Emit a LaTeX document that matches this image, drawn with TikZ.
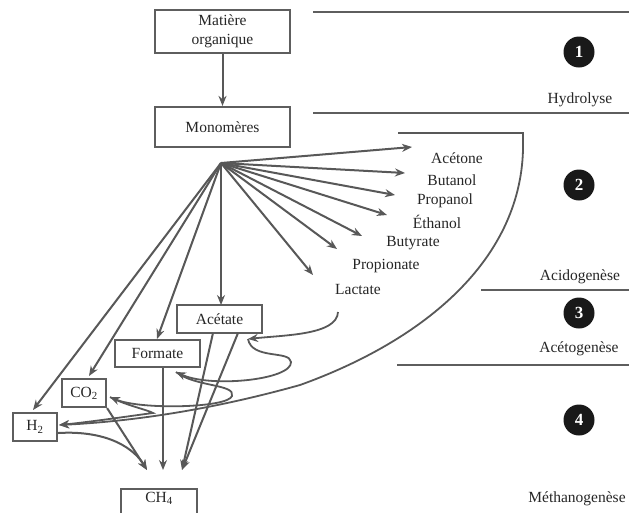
\documentclass[tikz,border=0pt]{standalone}
\usepackage{fontspec}
\setmainfont{Liberation Serif}
\usetikzlibrary{arrows.meta}
\definecolor{lc}{HTML}{585858}
\definecolor{bc}{HTML}{5E5E5E}
\definecolor{tc}{HTML}{262626}
\newcommand{\fs}{\fontsize{15.5}{18}\selectfont}
\begin{document}
\begin{tikzpicture}[x=1pt,y=-1pt,
  ln/.style={draw=lc, line width=2pt},
  arr/.style={ln, -{Stealth[length=10pt,width=8pt]}},
  box/.style={draw=bc, line width=2.2pt, inner sep=0pt, font=\fs, text=tc, align=center},
  lab/.style={font=\fs, text=tc, inner sep=0pt},
  num/.style={circle, fill=black!90, text=white, font=\fontsize{17}{17}\selectfont\bfseries, minimum size=31pt, inner sep=0pt},
  sep/.style={draw=bc, line width=2.2pt}]
\useasboundingbox (0,0) rectangle (629,512);
\fill[white] (0,0) rectangle (629,512);

% boxes
\node[box, minimum width=135pt, minimum height=43pt] (mat) at (222.5,31.5) {Matière\\[1pt]organique};
\node[box, minimum width=135pt, minimum height=40pt] (mono) at (222.5,127) {Monomères};
\node[box, minimum width=85pt, minimum height=28pt] (acet) at (219.5,319) {Acétate};
\node[box, minimum width=85pt, minimum height=27pt] (form) at (157.5,353.5) {Formate};
\node[box, minimum width=44pt, minimum height=28pt] (co2) at (84,393) {CO\textsubscript{2}};
\node[box, minimum width=44pt, minimum height=28pt] (h2) at (35,427) {H\textsubscript{2}};
\node[box, minimum width=76pt, minimum height=40pt, anchor=north] (ch4) at (159,488) {};
\node[lab] (ch4t) at (159,498) {CH\textsubscript{4}};

% product labels
\node[lab] (acetone) at (457,158) {Acétone};
\node[lab] (butanol) at (452,180) {Butanol};
\node[lab] (propanol) at (445,201) {Propanol};
\node[lab] (ethanol) at (437,222) {Éthanol};
\node[lab] (butyrate) at (413,243) {Butyrate};
\node[lab] (propionate) at (386,266) {Propionate};
\node[lab] (lactate) at (358,289) {Lactate};

% right column
\draw[sep] (313,12) -- (629,12);
\draw[sep] (313,113) -- (629,113);
\draw[sep] (481,290) -- (629,290);
\draw[sep] (397,365) -- (629,365);
\node[num] (n1) at (579,52) {1};
\node[num] (n2) at (579,185) {2};
\node[num] (n3) at (579,313) {3};
\node[num] (n4) at (579,420) {4};
\node[lab] (hyd) at (580,100) {Hydrolyse};
\node[lab] (acid) at (580,277) {Acidogenèse};
\node[lab] (aceto) at (579,349) {Acétogenèse};
\node[lab] (metha) at (577,499) {Méthanogenèse};

% coordinates
\coordinate (fo) at (221,163);
\coordinate (t1) at (412,147);
\coordinate (t2) at (405,173);
\coordinate (t3) at (395,195);
\coordinate (t4) at (387,215);
\coordinate (t5) at (362,236);
\coordinate (t6) at (337,249);
\coordinate (t7) at (313,275);
\coordinate (tf) at (157,339);
\coordinate (tc) at (89,376);
\coordinate (th) at (33,410);
\coordinate (ta) at (221,305);

\draw[arr] (mat) -- (mono);
\foreach \t in {t1,t2,t3,t4,t5,t6,t7,tf,tc,th,ta} \draw[arr] (fo) -- (\t);

% bracket to H2
\coordinate (bk0) at (398,133);
\coordinate (bk1) at (523,133);
\coordinate (h2in) at (59,425);
\draw[arr, line width=1.8pt] (bk0) -- (bk1) -- (523,150) .. controls (520,260) and (425,340) .. (300,385)
   .. controls (200,413) and (120,422) .. (h2in);

% acetogenesis chain
\coordinate (lac0) at (338,312);
\coordinate (cA) at (248,339);
\coordinate (cF) at (176,372);
\coordinate (cC) at (110,397);
\coordinate (cH) at (153,413);
\draw[arr, line width=1.8pt] (lac0) .. controls (337,335) and (285,335) .. (cA);
\draw[arr, line width=1.8pt] (cA) .. controls (252,360) and (290,350) .. (291,362)
   .. controls (292,380) and (210,388) .. (cF);
\draw[arr, line width=1.8pt] (cF) .. controls (195,387) and (236,384) .. (232,396)
   .. controls (228,408) and (140,410) .. (cC);
\draw[arr, line width=1.8pt] (cC) .. controls (125,405) and (148,410) .. (cH)
   .. controls (130,416) and (90,422) .. (h2in);

% to CH4
\coordinate (m1) at (147,470);
\coordinate (m2) at (163,470);
\coordinate (m3) at (182,470);
\draw[arr] (co2.south east) -- (m1);
\draw[arr] (h2.east |- 0,433) .. controls (110,430) and (135,450) .. (m1);
\draw[arr] (form.south -| 163,0) -- (m2);
\draw[arr] (213,333) -- (m3);
\draw[arr] (238,333) -- (m3);
\end{tikzpicture}
\end{document}
